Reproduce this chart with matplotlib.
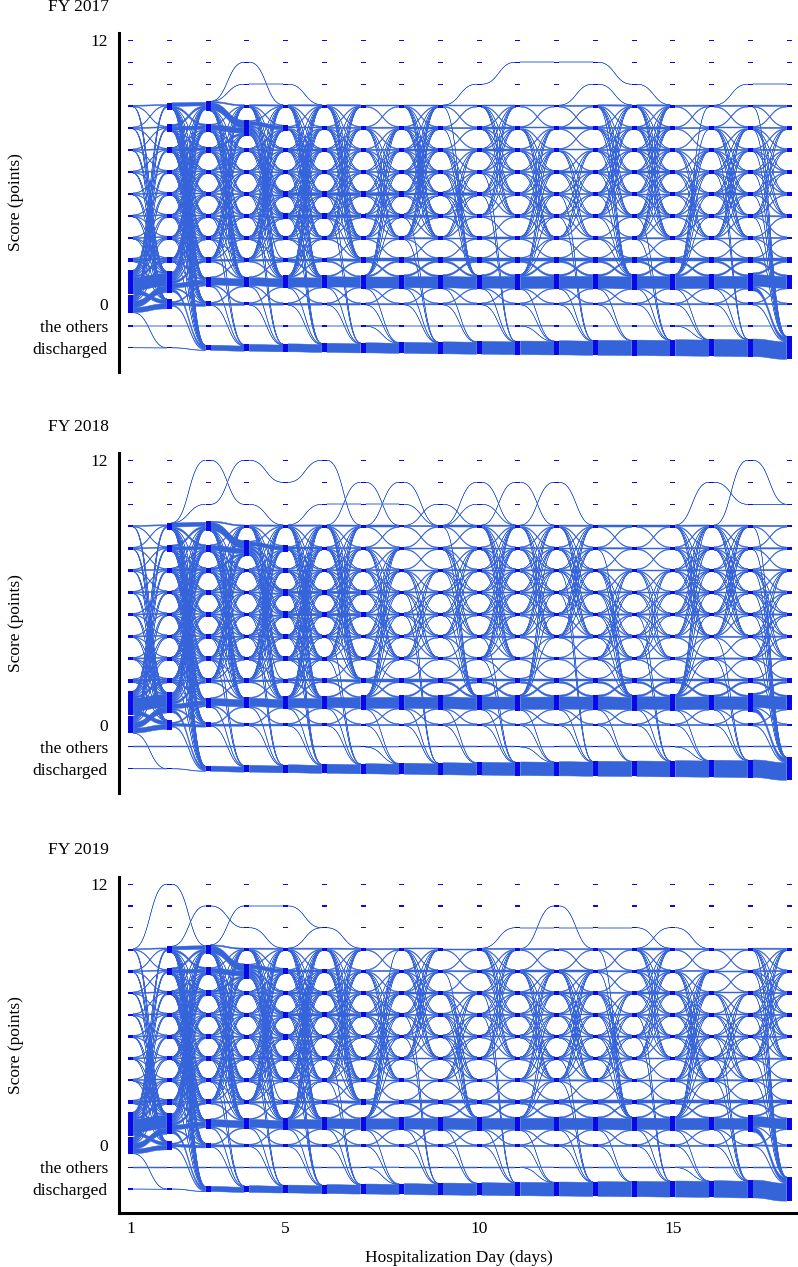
import numpy as np
import matplotlib
matplotlib.use('Agg')
import matplotlib.pyplot as plt
from matplotlib.collections import PolyCollection
from collections import defaultdict

plt.rcParams['font.family'] = ['Liberation Serif', 'DejaVu Serif']

# ---------------------------------------------------------------- data
days = list(range(1, 19))
# score levels 12..0, then "the others" (-1) and "discharged" (-2)
tick_ys = [12, 0, -1, -2]
tick_text = ['12', '0', 'the others', 'discharged']
x_ticks = [1, 5, 10, 15]
titles = ['FY 2017', 'FY 2018', 'FY 2019']

# one value per transition (day t -> day t+1), in patients
fy17_stay1 = [100, 36, 56, 64, 74, 80, 84, 88, 90, 92, 92, 94, 94, 94, 94, 94, 92]
fy17_stay0 = [40, 20, 16, 14, 14, 12, 10, 10, 10, 10, 10, 10, 10, 10, 10, 10, 10]
fy17_stay2 = [14, 8, 14, 14, 16, 18, 20, 20, 20, 20, 20, 20, 20, 20, 20, 20, 20]
fy17_up01 = [50, 10, 8, 6, 6, 6, 6, 6, 6, 6, 6, 6, 6, 6, 6, 6, 6]
fy17_down10 = [30, 10, 8, 6, 6, 6, 6, 6, 6, 6, 6, 6, 6, 6, 6, 6, 6]
fy17_x12 = [10, 10, 8, 8, 10, 10, 12, 14, 14, 14, 14, 14, 14, 14, 14, 14, 14]
fy17_mid = [8, 8, 10, 10, 10, 10, 10, 10, 10, 10, 10, 10, 10, 10, 10, 10, 10]
fy17_step = [5, 5, 6, 6, 6, 6, 6, 6, 6, 6, 6, 6, 6, 6, 6, 6, 6]
fy17_out1 = [0, 22, 8, 6, 5, 5, 5, 5, 5, 3, 3, 3, 3, 3, 3, 3, 30]
fy17_out0 = [2, 8, 2, 1, 1, 1, 1, 1, 1, 1, 1, 1, 1, 1, 1, 1, 6]
fy17_other = [5, 5, 5, 5, 5, 5, 5, 5, 5, 5, 5, 5, 5, 5, 5, 5, 5]
# (day, from_lo, from_hi, to_lo, to_hi, patients each)
fy17_mesh = [(1, 0, 1, 2, 9, 6), (1, 2, 9, 0, 1, 1), (2, 1, 1, 2, 9, 10),
             (2, 2, 9, 2, 9, 1), (2, 2, 9, -2, -2, 1), (2, 2, 9, 0, 1, 1),
             (3, 2, 9, 2, 9, 1), (3, 3, 4, -2, -2, 1), (3, 2, 9, 1, 1, 1),
             (4, 8, 8, 1, 7, 5), (4, 3, 9, 1, 1, 1), (4, 4, 5, -2, -2, 1),
             (4, 2, 9, 3, 9, 1), (5, 3, 9, 3, 9, 1), (5, 3, 9, 1, 1, 1),
             (5, 1, 1, 3, 9, 1), (5, 4, 6, -2, -2, 1), (6, 3, 9, 3, 9, 1),
             (6, 3, 9, 2, 2, 1), (6, 4, 5, -2, -2, 1), (7, 3, 8, 3, 8, 1),
             (7, 1, 1, 4, 8, 1), (7, -1, -1, -2, -2, 1), (8, 3, 4, -2, -2, 1),
             (8, 3, 9, 3, 9, 1), (9, 5, 9, 1, 1, 1), (9, 3, 7, 3, 7, 1),
             (10, 5, 6, -2, -2, 1), (10, 4, 9, 4, 9, 1), (11, 1, 1, 3, 7, 1),
             (11, 3, 8, 3, 8, 1), (11, -1, -1, -2, -2, 1), (12, 4, 5, -2, -2, 1),
             (12, 3, 7, 3, 7, 1), (13, 3, 9, 1, 1, 1), (13, 4, 9, 4, 9, 1),
             (14, 3, 4, -2, -2, 1), (14, 3, 9, 3, 9, 1), (15, 1, 1, 4, 9, 1),
             (15, 3, 7, 3, 7, 1), (15, -1, -1, -2, -2, 1), (16, 6, 7, -2, -2, 1),
             (16, 3, 8, 3, 8, 1), (17, 3, 9, -2, -2, 1), (17, 4, 8, 4, 8, 1)]
# (day, from, to, patients)
fy17_extra = [(2, 9, 9, 20), (2, 8, 9, 10), (2, 8, 8, 20), (2, 9, 8, 10), (2, 7, 7, 14),
              (3, 9, 8, 52), (3, 8, 8, 32), (3, 7, 8, 10), (4, 8, 8, 20), (4, 8, 5, 20),
              (4, 8, 4, 14), (5, 5, 5, 16), (6, 5, 5, 14), (7, 5, 5, 14), (8, 5, 5, 10),
              (9, 5, 5, 10), (5, 4, 4, 10), (6, 4, 4, 10), (7, 4, 4, 10), (8, 4, 4, 8),
              (3, 9, 11, 2), (3, 9, 10, 1), (4, 11, 9, 2), (4, 10, 10, 1), (5, 10, 9, 1),
              (9, 9, 10, 1), (10, 10, 11, 1), (11, 11, 11, 1), (12, 11, 11, 1),
              (13, 11, 10, 1), (14, 10, 9, 1), (12, 9, 10, 1), (13, 10, 9, 1),
              (16, 9, 10, 1), (17, 10, 10, 1)]

fy18_stay1 = [100, 36, 56, 64, 74, 80, 85, 89, 92, 94, 95, 96, 97, 97, 98, 98, 98]
fy18_stay0 = [38, 20, 16, 14, 14, 12, 10, 10, 10, 10, 10, 10, 10, 10, 10, 10, 10]
fy18_stay2 = [14, 8, 14, 14, 16, 18, 18, 20, 20, 20, 20, 20, 20, 20, 20, 20, 20]
fy18_up01 = [46, 10, 8, 6, 6, 6, 6, 6, 6, 6, 6, 6, 6, 6, 6, 6, 6]
fy18_down10 = [30, 10, 8, 6, 6, 6, 6, 6, 6, 6, 6, 6, 6, 6, 6, 6, 6]
fy18_x12 = [10, 10, 8, 8, 10, 10, 10, 12, 14, 14, 14, 14, 14, 14, 14, 14, 14]
fy18_mid = [8, 8, 10, 10, 10, 10, 10, 10, 10, 10, 10, 10, 10, 10, 10, 10, 10]
fy18_step = [5, 5, 6, 6, 6, 6, 6, 6, 6, 6, 6, 6, 6, 6, 6, 6, 6]
fy18_out1 = [0, 22, 8, 6, 5, 5, 5, 5, 5, 3, 3, 3, 3, 3, 3, 3, 30]
fy18_out0 = [2, 8, 2, 1, 1, 1, 1, 1, 1, 1, 1, 1, 1, 1, 1, 1, 6]
fy18_other = [5, 5, 5, 5, 5, 5, 5, 5, 5, 5, 5, 5, 5, 5, 5, 5, 5]
fy18_mesh = [(1, 0, 1, 2, 9, 6), (1, 2, 9, 0, 1, 1), (2, 1, 1, 2, 9, 10),
             (2, 2, 9, 2, 9, 1), (2, 2, 9, -2, -2, 1), (2, 2, 9, 0, 1, 1),
             (3, 2, 9, 2, 9, 1), (3, 3, 4, -2, -2, 1), (3, 2, 9, 1, 1, 1),
             (4, 8, 8, 1, 7, 5), (4, 3, 9, 1, 1, 1), (4, 4, 5, -2, -2, 1),
             (4, 2, 9, 3, 9, 1), (5, 3, 9, 3, 9, 1), (5, 3, 9, 1, 1, 1),
             (5, 1, 1, 3, 9, 1), (5, 4, 6, -2, -2, 1), (6, 3, 9, 3, 9, 1),
             (6, 3, 9, 2, 2, 1), (6, 3, 4, -2, -2, 1), (7, 3, 8, 3, 8, 1),
             (7, 1, 1, 3, 8, 1), (7, -1, -1, -2, -2, 1), (8, 5, 6, -2, -2, 1),
             (8, 3, 7, 3, 7, 1), (9, 4, 9, 1, 1, 1), (9, 4, 8, 4, 8, 1),
             (10, 3, 4, -2, -2, 1), (10, 3, 9, 3, 9, 1), (11, 1, 1, 4, 8, 1),
             (11, 4, 9, 4, 9, 1), (11, -1, -1, -2, -2, 1), (12, 6, 7, -2, -2, 1),
             (12, 4, 9, 4, 9, 1), (13, 3, 8, 1, 1, 1), (13, 3, 7, 3, 7, 1),
             (14, 4, 5, -2, -2, 1), (14, 3, 7, 3, 7, 1), (15, 1, 1, 3, 9, 1),
             (15, 4, 9, 4, 9, 1), (15, -1, -1, -2, -2, 1), (16, 3, 4, -2, -2, 1),
             (16, 4, 9, 4, 9, 1), (17, 3, 9, -2, -2, 1), (17, 3, 7, 3, 7, 1)]
fy18_extra = [(2, 9, 9, 24), (2, 8, 9, 10), (2, 8, 8, 16), (2, 9, 8, 10), (2, 7, 7, 10),
              (3, 9, 8, 56), (3, 8, 8, 30), (3, 7, 8, 10), (4, 8, 8, 20), (4, 8, 6, 16),
              (4, 8, 5, 14), (5, 6, 6, 10), (6, 6, 6, 10), (5, 5, 5, 10), (6, 5, 5, 10),
              (2, 9, 12, 1), (2, 9, 10, 1), (3, 12, 10, 1), (3, 10, 12, 1),
              (4, 12, 11, 1), (4, 10, 9, 1), (5, 11, 12, 1), (6, 12, 9, 1),
              (5, 9, 10, 1), (6, 10, 10, 1), (7, 10, 10, 1), (8, 10, 9, 1),
              (6, 9, 11, 1), (7, 11, 9, 1), (7, 9, 11, 1), (8, 11, 9, 1),
              (8, 9, 10, 1), (9, 10, 9, 1), (9, 9, 11, 1), (10, 11, 9, 1),
              (10, 9, 11, 1), (11, 11, 9, 1), (11, 9, 11, 1), (12, 11, 9, 1),
              (9, 9, 10, 1), (10, 10, 9, 1), (15, 9, 11, 1), (16, 11, 10, 1),
              (16, 9, 12, 1), (17, 12, 10, 1), (17, 10, 10, 1)]

fy19_stay1 = [104, 36, 56, 64, 72, 78, 82, 86, 88, 88, 90, 90, 90, 90, 90, 86, 80]
fy19_stay0 = [36, 20, 16, 14, 14, 12, 10, 10, 10, 10, 10, 10, 10, 10, 10, 10, 10]
fy19_stay2 = [14, 8, 14, 14, 16, 18, 18, 20, 20, 20, 20, 20, 20, 20, 20, 20, 20]
fy19_up01 = [46, 10, 8, 6, 6, 6, 6, 6, 6, 6, 6, 6, 6, 6, 6, 6, 6]
fy19_down10 = [26, 10, 8, 6, 6, 6, 6, 6, 6, 6, 6, 6, 6, 6, 6, 6, 6]
fy19_x12 = [10, 10, 8, 8, 8, 10, 10, 10, 10, 10, 10, 10, 10, 10, 10, 10, 10]
fy19_mid = [8, 8, 10, 10, 10, 10, 10, 10, 10, 10, 10, 10, 10, 10, 10, 10, 10]
fy19_step = [5, 5, 6, 6, 6, 6, 6, 6, 6, 6, 6, 6, 6, 6, 6, 6, 6]
fy19_out1 = [0, 22, 8, 6, 5, 5, 5, 5, 5, 3, 3, 3, 3, 3, 3, 5, 38]
fy19_out0 = [2, 8, 2, 1, 1, 1, 1, 1, 1, 1, 1, 1, 1, 1, 1, 1, 6]
fy19_other = [5, 5, 5, 5, 5, 5, 5, 5, 5, 5, 5, 5, 5, 5, 5, 5, 5]
fy19_mesh = [(1, 0, 1, 2, 9, 6), (1, 2, 9, 0, 1, 1), (2, 1, 1, 2, 9, 10),
             (2, 2, 9, 2, 9, 1), (2, 2, 9, -2, -2, 1), (2, 2, 9, 0, 1, 1),
             (3, 2, 9, 2, 9, 1), (3, 3, 4, -2, -2, 1), (3, 2, 9, 1, 1, 1),
             (4, 8, 8, 1, 7, 5), (4, 3, 9, 1, 1, 1), (4, 4, 5, -2, -2, 1),
             (4, 2, 9, 3, 9, 1), (5, 3, 9, 3, 9, 1), (5, 3, 9, 1, 1, 1),
             (5, 1, 1, 3, 9, 1), (5, 4, 6, -2, -2, 1), (6, 3, 9, 3, 9, 1),
             (6, 3, 9, 2, 2, 1), (6, 3, 4, -2, -2, 1), (7, 3, 8, 3, 8, 1),
             (7, 1, 1, 4, 9, 1), (7, -1, -1, -2, -2, 1), (8, 5, 6, -2, -2, 1),
             (8, 4, 9, 4, 9, 1), (9, 4, 8, 1, 1, 1), (9, 3, 7, 3, 7, 1),
             (10, 6, 7, -2, -2, 1), (10, 4, 9, 4, 9, 1), (11, 1, 1, 3, 6, 1),
             (11, 3, 8, 3, 8, 1), (11, -1, -1, -2, -2, 1), (12, 3, 4, -2, -2, 1),
             (12, 3, 8, 3, 8, 1), (13, 4, 9, 1, 1, 1), (13, 3, 7, 3, 7, 1),
             (14, 5, 6, -2, -2, 1), (14, 4, 9, 4, 9, 1), (15, 1, 1, 3, 8, 1),
             (15, 3, 8, 3, 8, 1), (15, -1, -1, -2, -2, 1), (16, 3, 5, -2, -2, 1),
             (16, 3, 7, 3, 7, 1), (17, 3, 9, -2, -2, 1), (17, 4, 9, 4, 9, 1)]
fy19_extra = [(2, 9, 9, 20), (2, 8, 9, 10), (2, 8, 8, 20), (2, 9, 8, 10), (2, 7, 7, 10),
              (3, 9, 8, 50), (3, 8, 8, 30), (3, 7, 8, 10), (4, 8, 8, 20), (4, 8, 6, 16),
              (4, 8, 5, 14), (5, 6, 6, 10), (6, 6, 6, 10), (7, 6, 6, 6),
              (1, 9, 12, 1), (2, 12, 9, 1), (2, 9, 11, 2), (3, 11, 10, 2),
              (4, 10, 9, 2), (3, 9, 11, 1), (4, 11, 11, 1), (5, 11, 10, 1),
              (6, 10, 9, 2), (5, 9, 10, 1), (10, 9, 10, 1), (11, 10, 10, 1),
              (12, 10, 10, 1), (13, 10, 10, 1), (14, 10, 9, 1), (11, 9, 11, 1),
              (12, 11, 9, 1), (14, 9, 10, 1), (15, 10, 9, 1)]

panels = [
    dict(stay1=fy17_stay1, stay0=fy17_stay0, stay2=fy17_stay2, up01=fy17_up01,
         down10=fy17_down10, x12=fy17_x12, mid=fy17_mid, step=fy17_step,
         out1=fy17_out1, out0=fy17_out0, other=fy17_other, mesh=fy17_mesh,
         extra=fy17_extra),
    dict(stay1=fy18_stay1, stay0=fy18_stay0, stay2=fy18_stay2, up01=fy18_up01,
         down10=fy18_down10, x12=fy18_x12, mid=fy18_mid, step=fy18_step,
         out1=fy18_out1, out0=fy18_out0, other=fy18_other, mesh=fy18_mesh,
         extra=fy18_extra),
    dict(stay1=fy19_stay1, stay0=fy19_stay0, stay2=fy19_stay2, up01=fy19_up01,
         down10=fy19_down10, x12=fy19_x12, mid=fy19_mid, step=fy19_step,
         out1=fy19_out1, out0=fy19_out0, other=fy19_other, mesh=fy19_mesh,
         extra=fy19_extra),
]

# ---------------------------------------------------------------- style
node_color = '#0808e8'
flow_color = '#3563d9'
pt_h = 0.0058         # height of one patient in score units
node_w = 0.13
min_h = 0.06
levels = list(range(12, -3, -1))


def build_flows(p):
    fl = defaultdict(int)
    for i, t in enumerate(days[:-1]):
        fl[(t, 1, 1)] += p['stay1'][i]
        fl[(t, 0, 0)] += p['stay0'][i]
        fl[(t, 2, 2)] += p['stay2'][i]
        fl[(t, 0, 1)] += p['up01'][i]
        fl[(t, 1, 0)] += p['down10'][i]
        fl[(t, 1, 2)] += p['x12'][i]
        fl[(t, 2, 1)] += p['x12'][i]
        fl[(t, 1, -2)] += p['out1'][i]
        fl[(t, 0, -2)] += p['out0'][i]
        fl[(t, -1, -1)] += p['other'][i]
        for k in range(3, 10):
            fl[(t, k, k)] += p['mid'][i]
            fl[(t, k, k - 1)] += p['step'][i]
        for k in range(2, 9):
            fl[(t, k, k + 1)] += p['step'][i]
    for t, a0, a1, b0, b1, n in p['mesh']:
        for a in range(a0, a1 + 1):
            for b in range(b0, b1 + 1):
                if a != b:
                    fl[(t, a, b)] += n
    for t, a, b, n in p['extra']:
        fl[(t, a, b)] += n
    # discharged patients stay discharged
    held = 1
    for t in days[:-1]:
        fl[(t, -2, -2)] = held
        held += sum(n for (tt, a, b), n in fl.items() if tt == t and b == -2 and a != -2)
    return {k: v for k, v in fl.items() if v > 0}


def sigmoid_path(x0, x1, y0, y1, s):
    xm = (x0 + x1) / 2
    bx = (1 - s) ** 3 * x0 + 3 * (1 - s) ** 2 * s * xm + 3 * (1 - s) * s ** 2 * xm + s ** 3 * x1
    by = (1 - s) ** 3 * y0 + 3 * (1 - s) ** 2 * s * y0 + 3 * (1 - s) * s ** 2 * y1 + s ** 3 * y1
    return bx, by


def draw_panel(ax, p):
    fl = build_flows(p)
    out_sum = defaultdict(int)
    in_sum = defaultdict(int)
    for (t, a, b), n in fl.items():
        out_sum[(t, a)] += n
        in_sum[(t + 1, b)] += n
    height = {}
    for d in days:
        for lv in levels:
            height[(d, lv)] = max(out_sum[(d, lv)], in_sum[(d, lv)]) * pt_h

    s = np.linspace(0, 1, 40)
    polys = []
    for t in days[:-1]:
        out_off = {lv: out_sum[(t, lv)] * pt_h / 2 for lv in levels}
        in_off = {lv: in_sum[(t + 1, lv)] * pt_h / 2 for lv in levels}
        keys = [k for k in fl if k[0] == t]
        # stacking order inside the source node
        src_top = {}
        for k in sorted(keys, key=lambda k: (-k[1], -k[2])):
            _, a, b = k
            src_top[k] = a + out_off[a]
            out_off[a] -= fl[k] * pt_h
        dst_top = {}
        for k in sorted(keys, key=lambda k: (-k[2], -k[1])):
            _, a, b = k
            dst_top[k] = b + in_off[b]
            in_off[b] -= fl[k] * pt_h
        for k in keys:
            w = fl[k] * pt_h
            x0 = t + node_w / 2
            x1 = t + 1 - node_w / 2
            bx, ytop = sigmoid_path(x0, x1, src_top[k], dst_top[k], s)
            _, ybot = sigmoid_path(x0, x1, src_top[k] - w, dst_top[k] - w, s)
            polys.append(np.column_stack([np.r_[bx, bx[::-1]], np.r_[ytop, ybot[::-1]]]))
    pc = PolyCollection(polys, facecolor=flow_color, edgecolor=flow_color,
                        linewidth=0.35, zorder=2)
    ax.add_collection(pc)

    xs, bottoms, hs = [], [], []
    for d in days:
        for lv in levels:
            h = max(height[(d, lv)], min_h)
            xs.append(d)
            bottoms.append(lv - h / 2)
            hs.append(h)
    ax.bar(xs, hs, bottom=bottoms, width=node_w, color=node_color,
           linewidth=0, zorder=3)


fig = plt.figure(figsize=(7.98, 12.67), dpi=100)
W, H = 798.0, 1267.0
ax_boxes = [(33, 372), (453, 793), (877, 1213)]
title_y = [7, 427, 850]
left_px, right_px = 119, 798

for i, p in enumerate(panels):
    top, bot = ax_boxes[i]
    ax = fig.add_axes([left_px / W, 1 - bot / H, (right_px - left_px) / W, (bot - top) / H])
    draw_panel(ax, p)
    ax.set_xlim(0.70, 18.23)
    ax.set_ylim(-3.1, 12.33)
    for side in ['top', 'right']:
        ax.spines[side].set_visible(False)
    ax.spines['left'].set_linewidth(2.2)
    ax.set_yticks(tick_ys)
    ax.set_yticklabels(tick_text)
    ax.tick_params(axis='both', length=0, labelsize=12.5, pad=8)
    ax.set_ylabel('Score (points)', fontsize=12.5)
    ax.yaxis.set_label_coords(-0.140, 0.5)
    if i < 2:
        ax.spines['bottom'].set_visible(False)
        ax.set_xticks([])
    else:
        ax.spines['bottom'].set_linewidth(2.2)
        ax.set_xticks(x_ticks)
        ax.tick_params(axis='x', pad=6)
        ax.set_xlabel('Hospitalization Day (days)', fontsize=12.5, labelpad=9)
    fig.text(48 / W, 1 - title_y[i] / H, titles[i], fontsize=12.5, va='center', ha='left')

fig.savefig('out.png', dpi=100)
